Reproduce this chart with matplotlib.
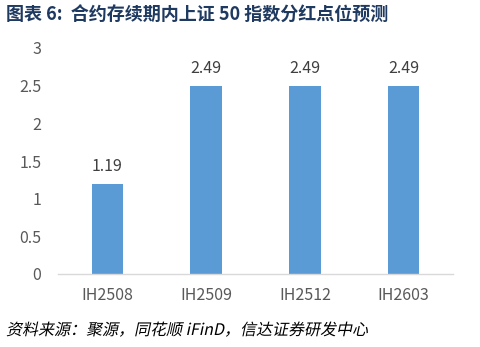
import matplotlib
matplotlib.use("Agg")
import matplotlib.pyplot as plt
from matplotlib.textpath import TextPath
from matplotlib.patches import PathPatch
from matplotlib.font_manager import FontProperties
from matplotlib.transforms import Affine2D

plt.rcParams['font.family'] = ['Noto Sans CJK SC', 'DejaVu Sans']

# ================= DATA =================
contracts = ["IH2508", "IH2509", "IH2512", "IH2603"]
dividend_pts = [1.19, 2.49, 2.49, 2.49]
yticks = [0, 0.5, 1, 1.5, 2, 2.5, 3]

title = "图表 6:  合约存续期内上证 50 指数分红点位预测"
source = "资料来源：聚源，同花顺 iFinD，信达证券研发中心"

# ================= PLOT =================
W, H = 481, 347
fig = plt.figure(figsize=(W / 100, H / 100), dpi=100)
ax = fig.add_axes([58 / W, 1 - 274 / H, 395 / W, 226 / H])

bar_color = "#5B9BD5"
x = range(len(contracts))
ax.bar(x, dividend_pts, width=0.32, color=bar_color)

for xi, v in zip(x, dividend_pts):
    ax.annotate(f"{v:.2f}", (xi, v), xytext=(0, 7), textcoords="offset points",
                ha="center", va="bottom", fontsize=11.5, color="#404040")

ax.set_xlim(-0.5, len(contracts) - 0.5)
ax.set_ylim(0, 3)
ax.set_yticks(yticks)
ax.set_yticklabels([f"{t:g}" for t in yticks])
ax.set_xticks(list(x))
ax.set_xticklabels(contracts)
ax.tick_params(axis="both", length=0, labelsize=11.5, colors="#595959")
ax.tick_params(axis="y", pad=12)
ax.tick_params(axis="x", pad=9)

for s in ["top", "right", "left"]:
    ax.spines[s].set_visible(False)
ax.spines["bottom"].set_color("#D9D9D9")
ax.spines["bottom"].set_linewidth(1)

fig.text(6 / W, 1 - 15 / H, title, ha="left", va="center",
         fontsize=13, fontweight="bold", color="#1F3A60")

# source line, slanted by hand since the CJK font has no italic face
fp = FontProperties(family=['Noto Sans CJK SC', 'DejaVu Sans'])
tp = TextPath((0, 0), source, size=16, prop=fp)
tr = Affine2D().skew_deg(12, 0).translate(6, H - 335) + Affine2D().scale(1 / W, 1 / H) + fig.transFigure
fig.add_artist(PathPatch(tp, transform=tr, facecolor="black", edgecolor="none"))

fig.savefig("out.png", dpi=100)
